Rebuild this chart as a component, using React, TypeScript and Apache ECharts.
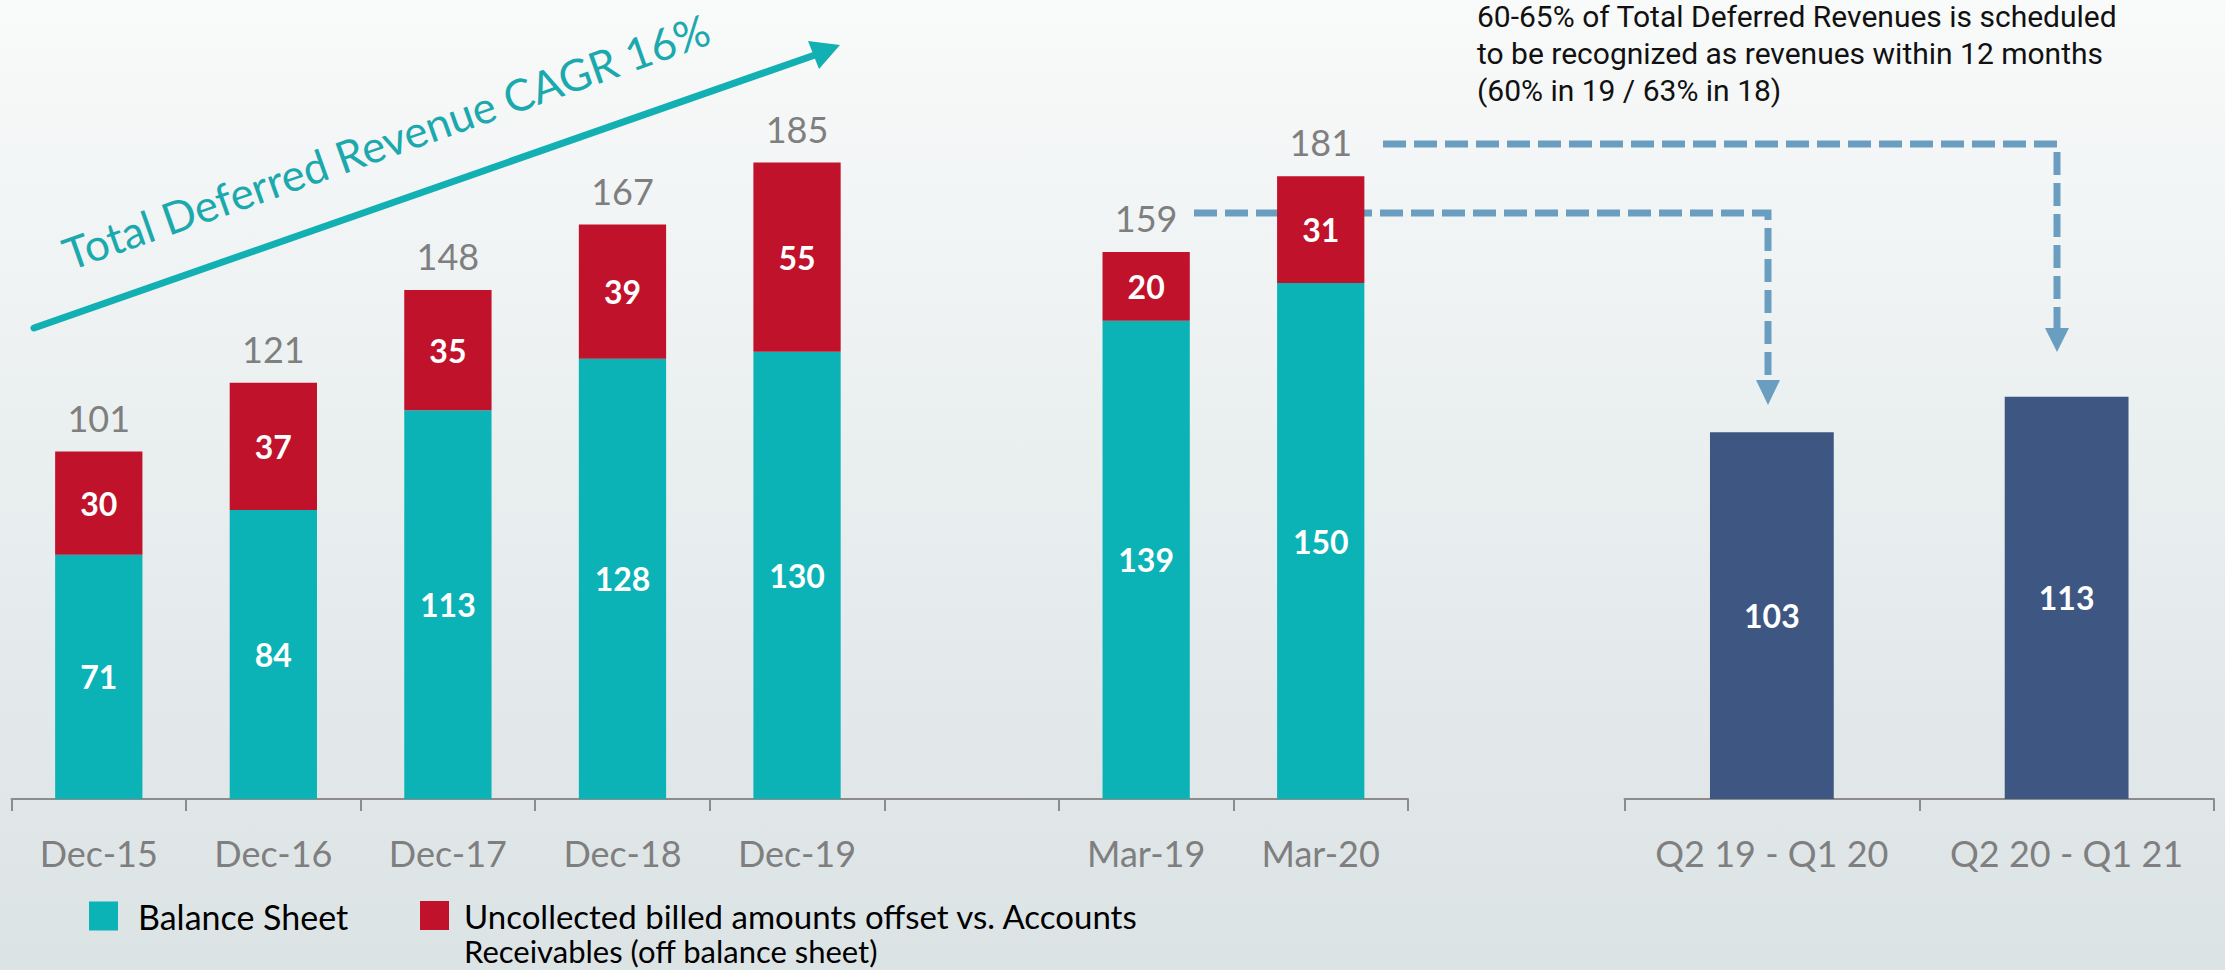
import React, { useEffect, useRef } from "react";
import * as echarts from "echarts";

const categories = ["Dec-15", "Dec-16", "Dec-17", "Dec-18", "Dec-19", "", "Mar-19", "Mar-20"];
const balanceSheet = [71, 84, 113, 128, 130, null, 139, 150];
const uncollected = [30, 37, 35, 39, 55, null, 20, 31];
const totals = [101, 121, 148, 167, 185, null, 159, 181];
const periods = ["Q2 19 - Q1 20", "Q2 20 - Q1 21"];
const recognized = [103, 113];

const SERIES_BS = "Balance Sheet";
const SERIES_UN = "Uncollected billed amounts offset vs. Accounts Receivables (off balance sheet)";
const LEGEND_UN_LINE1 = "Uncollected billed amounts offset vs. Accounts";
const LEGEND_UN_LINE2 = "Receivables (off balance sheet)";
const CAGR_TEXT = "Total Deferred Revenue CAGR 16%";
const NOTE_TEXT =
  "60-65% of Total Deferred Revenues is scheduled\nto be recognized as revenues within 12 months\n(60% in 19 / 63% in 18)";

const TEAL = "#0bb3b6";
const RED = "#c1122b";
const NAVY = "#3e5682";
const DASH = "#6a9ec0";
const GRAY = "#7f7f7f";
const AXIS = "#8c8c8c";

export default function App() {
  const ref = useRef<HTMLDivElement>(null);

  useEffect(() => {
    if (!ref.current) return;
    const chart = echarts.init(ref.current, null, { renderer: "svg" });

    const innerLabel = {
      show: true,
      position: "inside",
      color: "#ffffff",
      fontSize: 32,
      fontWeight: "bold",
      fontFamily: "Lato",
    };

    const axisCommon = {
      type: "category",
      axisLine: { show: true, lineStyle: { color: AXIS, width: 2 } },
      axisTick: { show: true, length: 12, lineStyle: { color: AXIS, width: 2 } },
      axisLabel: { color: GRAY, fontSize: 36, fontFamily: "Lato", margin: 36, interval: 0 },
    };

    const ang = (19.5 * Math.PI) / 180;

    chart.setOption({
      animation: false,
      backgroundColor: {
        type: "linear",
        x: 0,
        y: 0,
        x2: 0,
        y2: 1,
        colorStops: [
          { offset: 0, color: "#f9fafa" },
          { offset: 0.45, color: "#eaeff0" },
          { offset: 1, color: "#dce3e5" },
        ],
      },
      textStyle: { fontFamily: "Lato" },
      grid: [
        { left: 11.5, top: 111, width: 1396.5, height: 688 },
        { left: 1624.5, top: 87, width: 589.5, height: 712 },
      ],
      xAxis: [
        { ...axisCommon, gridIndex: 0, data: categories },
        { ...axisCommon, gridIndex: 1, data: periods },
      ],
      yAxis: [
        { type: "value", gridIndex: 0, min: 0, max: 200, show: false },
        { type: "value", gridIndex: 1, min: 0, max: 200, show: false },
      ],
      legend: [
        {
          data: [SERIES_BS],
          left: 84,
          top: 894,
          itemWidth: 29,
          itemHeight: 29,
          icon: "rect",
          textStyle: { color: "#000", fontSize: 34, fontFamily: "Lato", lineHeight: 29, padding: [0, 0, 0, 15] },
        },
        {
          data: [SERIES_UN],
          left: 415,
          top: 894,
          itemWidth: 29,
          itemHeight: 29,
          icon: "rect",
          formatter: () => LEGEND_UN_LINE1,
          textStyle: { color: "#000", fontSize: 33, fontFamily: "Lato", lineHeight: 29, padding: [0, 0, 0, 10] },
        },
      ],
      series: [
        {
          name: SERIES_BS,
          type: "bar",
          xAxisIndex: 0,
          yAxisIndex: 0,
          stack: "left",
          barCategoryGap: "50%",
          data: balanceSheet.map((v) => (v === null ? "-" : v)),
          itemStyle: { color: TEAL },
          label: innerLabel,
        },
        {
          name: SERIES_UN,
          type: "bar",
          xAxisIndex: 0,
          yAxisIndex: 0,
          stack: "left",
          barCategoryGap: "50%",
          data: uncollected.map((v) => (v === null ? "-" : v)),
          itemStyle: { color: RED },
          label: innerLabel,
        },
        {
          name: "Total",
          type: "bar",
          xAxisIndex: 0,
          yAxisIndex: 0,
          stack: "left",
          barCategoryGap: "50%",
          data: totals.map((v) => (v === null ? "-" : 0)),
          itemStyle: { color: "rgba(0,0,0,0)" },
          label: {
            show: true,
            position: "top",
            distance: 16,
            color: GRAY,
            fontSize: 36,
            fontFamily: "Lato",
            formatter: (p: any) => String(totals[p.dataIndex] ?? ""),
          },
        },
        {
          name: "Recognized within 12 months",
          type: "bar",
          xAxisIndex: 1,
          yAxisIndex: 1,
          barCategoryGap: "58%",
          data: recognized,
          itemStyle: { color: NAVY },
          label: innerLabel,
        },
      ],
      graphic: [
        {
          type: "text",
          x: 386,
          y: 141,
          rotation: ang,
          z: 5,
          style: {
            text: CAGR_TEXT,
            fill: "#1ba9ae",
            fontSize: 44,
            lineHeight: 44,
            fontFamily: "Lato",
            align: "center",
            verticalAlign: "middle",
          },
        },
        {
          type: "line",
          z: 5,
          shape: { x1: 34, y1: 328, x2: 815, y2: 55 },
          style: { stroke: "#12b0b3", lineWidth: 7, lineCap: "round" },
        },
        {
          type: "polygon",
          z: 5,
          shape: { points: [[808, 41], [840, 45], [819, 69]] },
          style: { fill: "#12b0b3" },
        },
        {
          type: "text",
          x: 1477,
          y: -2,
          z: 5,
          style: {
            text: NOTE_TEXT,
            fill: "#111111",
            fontSize: 30,
            lineHeight: 37,
            fontFamily: "Roboto",
            align: "left",
            verticalAlign: "top",
          },
        },
        {
          type: "polyline",
          z: 1,
          shape: { points: [[1383, 144], [2057, 144], [2057, 328]] },
          style: { stroke: DASH, lineWidth: 7, lineDash: [23, 8], fill: null },
        },
        {
          type: "polygon",
          z: 1,
          shape: { points: [[2045, 328], [2069, 328], [2057, 352]] },
          style: { fill: DASH },
        },
        {
          type: "polyline",
          z: 1,
          shape: { points: [[1194, 213], [1768, 213], [1768, 380]] },
          style: { stroke: DASH, lineWidth: 7, lineDash: [23, 8], fill: null },
        },
        {
          type: "polygon",
          z: 1,
          shape: { points: [[1756, 380], [1780, 380], [1768, 405]] },
          style: { fill: DASH },
        },
        {
          type: "text",
          x: 464,
          y: 951,
          z: 5,
          style: {
            text: LEGEND_UN_LINE2,
            fill: "#000000",
            fontSize: 31,
            lineHeight: 31,
            fontFamily: "Lato",
            align: "left",
            verticalAlign: "middle",
          },
        },
      ],
    });

    return () => chart.dispose();
  }, []);

  return (
    <div
      ref={ref}
      style={{ position: "fixed", left: 0, top: 0, width: 2225, height: 970 }}
    />
  );
}
